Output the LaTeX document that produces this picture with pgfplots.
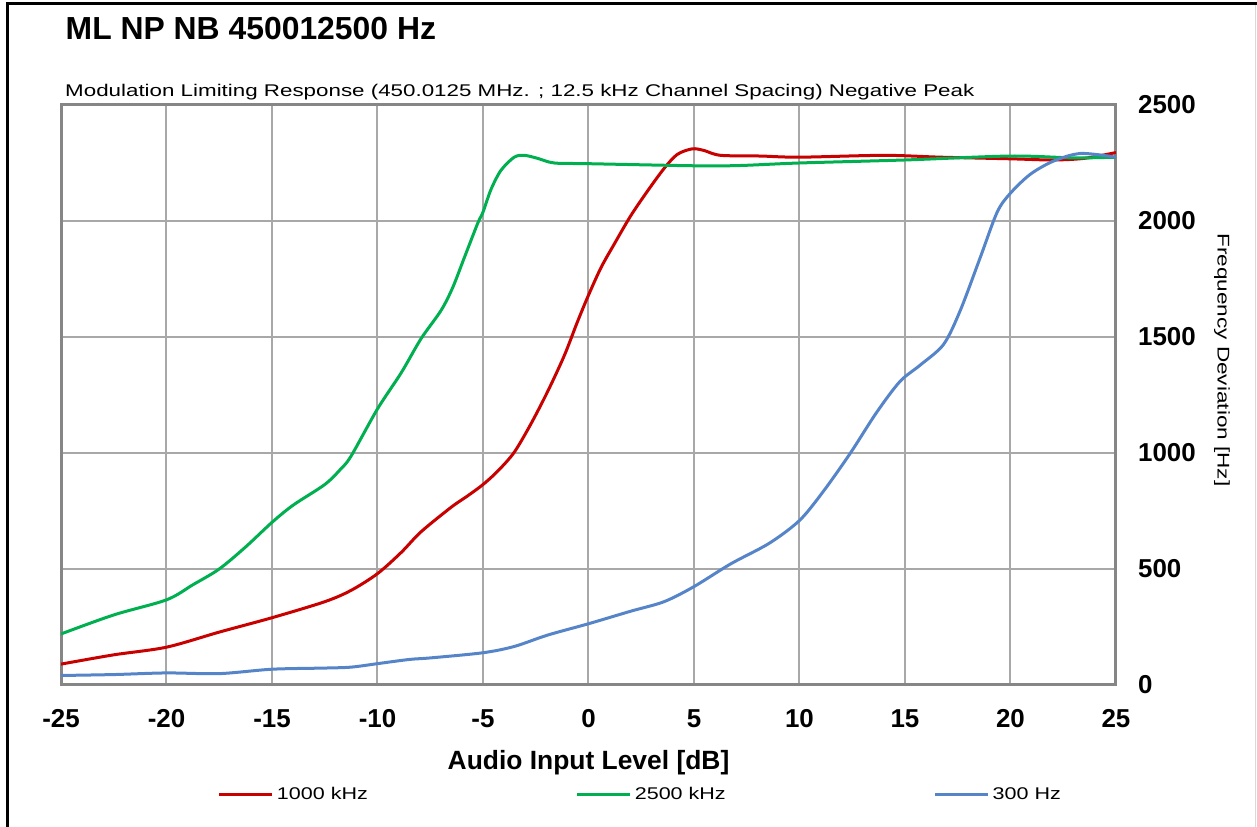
\documentclass[border=0pt]{standalone}
\usepackage{fontspec}
\setmainfont{Liberation Sans}
\usepackage{pgfplots}
\pgfplotsset{compat=1.18}
\definecolor{cred}{HTML}{C80000}
\definecolor{cgreen}{HTML}{00B050}
\definecolor{cblue}{HTML}{5585C8}
\definecolor{gridc}{HTML}{A8A8A8}
\definecolor{framec}{HTML}{868686}
\begin{document}
\begin{tikzpicture}[x=1bp,y=1bp]
\useasboundingbox (0,0) rectangle (1257,827);
\draw[black, line width=3bp] (7.5,0) -- (7.5,823.5) -- (1257,823.5);
\draw[gray!30, line width=1bp] (1255,822) -- (1255,0);
\node[anchor=base west, inner sep=0, font=\bfseries\fontsize{32}{32}\selectfont] at (65.5,787.5) {ML NP NB 450012500 Hz};
\node[anchor=base west, inner sep=0, font=\fontsize{17}{17}\selectfont] at (65,730) {\scalebox{1.32}[1]{Modulation Limiting Response (450.0125 MHz. ; 12.5 kHz Channel Spacing) Negative Peak}};
\node[rotate=-90, inner sep=0, font=\fontsize{17}{17}\selectfont] at (1222,467) {\scalebox{1.33}[1]{Frequency Deviation [Hz]}};
\node[anchor=base, inner sep=0, font=\bfseries\fontsize{26.5}{26.5}\selectfont] at (588.5,57) {Audio Input Level [dB]};
\begin{axis}[at={(61bp,142bp)}, anchor=south west, scale only axis,
  width=1055bp, height=580bp,
  xmin=-25, xmax=25, ymin=0, ymax=2500,
  xtick={-25,-20,...,25},
  xticklabels={-25,-20,-15,-10,-5,0,5,10,15,20,25},
  ytick={0,500,...,2500},
  yticklabels={0,500,1000,1500,2000,2500},
  yticklabel pos=right,
  grid=major,
  major grid style={gridc, line width=2bp},
  axis line style={framec, line width=3bp},
  tick style={draw=none},
  xticklabel style={font=\bfseries\fontsize{26}{26}\selectfont, anchor=north, inner sep=0pt, yshift=-24bp},
  yticklabel style={font=\bfseries\fontsize{26}{26}\selectfont, anchor=west, inner sep=0pt, xshift=22bp},
  legend columns=3,
  legend cell align=left,
  legend image code/.code={\draw[#1] (0bp,0bp) -- (53bp,0bp);},
  legend style={at={(axis description cs:0.1488,-0.188)}, anchor=west, draw=none, fill=none,
    inner sep=0pt, outer sep=0pt, nodes={inner sep=0pt, font=\fontsize{17}{17}\selectfont},
    /tikz/every odd column/.append style={column sep=3bp},
    /tikz/every even column/.append style={column sep=208bp}},
]
\addplot[cred, line width=3bp, smooth, tension=0.5] coordinates {
(-25,90) (-22.5,130) (-20,163) (-17.5,228) (-15,290) (-12.5,359) (-11.25,408)
(-10,480) (-8.88,571) (-7.94,660) (-6.51,766) (-5.73,815) (-5,864) (-4.31,921)
(-3.52,1003) (-2.73,1125) (-1.94,1264) (-1.15,1419) (-0.52,1566) (0,1680)
(0.6,1800) (1.25,1905) (2.0,2022) (2.79,2128) (3.58,2226) (4.21,2287)
(4.92,2311) (5.47,2304) (6.26,2283) (8.15,2280) (10,2275) (14,2283)
(16.7,2275) (20,2268) (22,2263) (23.5,2270) (25,2295)
};
\addlegendentry{\scalebox{1.27}[1]{1000 kHz}}
\addplot[cgreen, line width=3bp, smooth, tension=0.5] coordinates {
(-25,220) (-22.5,302) (-20,367) (-18.75,432) (-17.5,500) (-16.25,595) (-15,701)
(-14,775) (-12.5,864) (-11.75,930) (-11.25,987) (-10,1190) (-8.88,1345)
(-7.94,1492) (-6.99,1614) (-6.44,1712) (-5.88,1843) (-5.25,1990) (-5,2038)
(-4.62,2136) (-4.15,2218) (-3.52,2275) (-3.04,2283) (-2.41,2270) (-1.62,2250)
(0,2247) (5,2238) (7.14,2239) (10,2250) (15,2263) (20,2280) (23,2272) (25,2275)
};
\addlegendentry{\scalebox{1.27}[1]{2500 kHz}}
\addplot[cblue, line width=3bp, smooth, tension=0.5] coordinates {
(-25,41) (-22.5,45) (-20,52) (-17.5,49) (-15,68) (-12.5,73) (-11.25,77)
(-10,92) (-8.5,110) (-7.46,117) (-5,139) (-3.52,166) (-1.94,215) (0,264)
(2.0,318) (3.58,359) (5,424) (6.74,522) (8.57,611) (10,709) (11.11,832)
(12.38,995) (13.65,1174) (14.76,1308) (15.71,1378) (16.83,1468) (17.62,1614)
(18.57,1843) (19.37,2038) (20,2120) (20.95,2202) (22.06,2259) (23.33,2291) (25,2275)
};
\addlegendentry{\scalebox{1.27}[1]{300 Hz}}
\end{axis}
\end{tikzpicture}
\end{document}
